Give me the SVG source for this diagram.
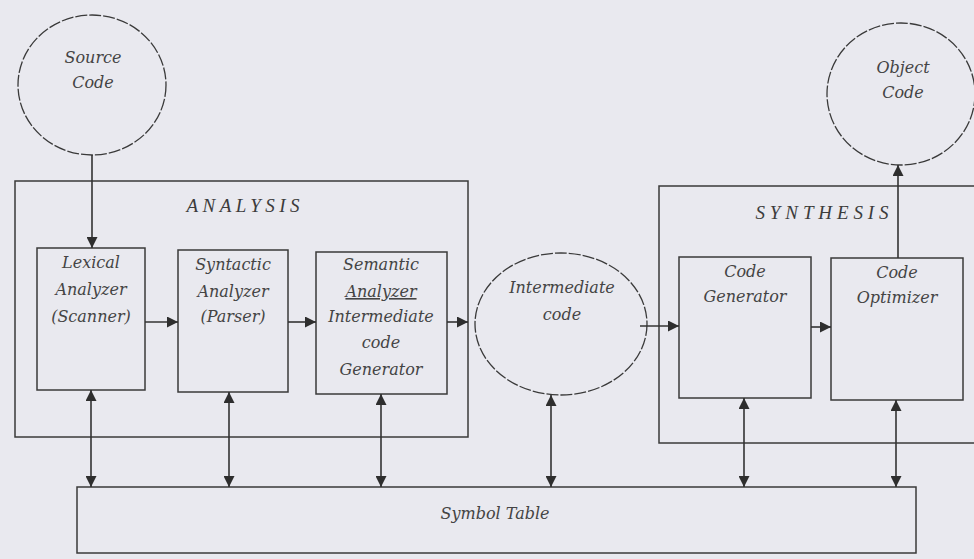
<svg xmlns="http://www.w3.org/2000/svg" width="974" height="559" viewBox="0 0 974 559">
<style>
.bg{fill:#e9e9ef}
.box{fill:none;stroke:#3a3a3a;stroke-width:1.5}
.circ{fill:none;stroke:#3a3a3a;stroke-width:1.3;stroke-dasharray:12 2}
.t{font-family:"DejaVu Serif","Liberation Serif",serif;font-style:italic;font-size:16px;fill:#444;text-anchor:middle}
.h{font-family:"Liberation Serif",serif;font-style:italic;font-size:19px;fill:#3c3c3c;text-anchor:middle}
.c line{stroke:#333;stroke-width:1.6}
</style>
<defs>
<marker id="ah" viewBox="0 0 10 10" refX="10" refY="5" markerWidth="12" markerHeight="11" markerUnits="userSpaceOnUse" orient="auto-start-reverse">
<path d="M0,0 L10,5 L0,10 z" fill="#2e2e2e"/>
</marker>
</defs>
<rect class="bg" x="0" y="0" width="974" height="559"/>

<g id="analysis">
<rect class="box" x="15" y="181" width="453" height="256"/>
<text class="h" x="243" y="212" textLength="113" lengthAdjust="spacing">ANALYSIS</text>
</g>
<g id="synthesis">
<rect class="box" x="659" y="186" width="330" height="257"/>
<text class="h" x="822" y="219" textLength="133" lengthAdjust="spacing">SYNTHESIS</text>
</g>

<g id="source">
<ellipse class="circ" cx="92" cy="85" rx="74" ry="70"/>
<text class="t" x="93" y="63">Source</text>
<text class="t" x="93" y="88">Code</text>
</g>

<g id="lexical">
<rect class="box" x="37" y="248" width="108" height="142"/>
<text class="t" x="91" y="268">Lexical</text>
<text class="t" x="91" y="295">Analyzer</text>
<text class="t" x="91" y="322">(Scanner)</text>
</g>
<g id="syntactic">
<rect class="box" x="178" y="250" width="110" height="142"/>
<text class="t" x="233" y="270">Syntactic</text>
<text class="t" x="233" y="297">Analyzer</text>
<text class="t" x="233" y="322">(Parser)</text>
</g>
<g id="semantic">
<rect class="box" x="316" y="252" width="131" height="142"/>
<text class="t" x="381" y="270">Semantic</text>
<text class="t" x="381" y="297" text-decoration="underline">Analyzer</text>
<text class="t" x="381" y="322">Intermediate</text>
<text class="t" x="381" y="348">code</text>
<text class="t" x="381" y="375">Generator</text>
</g>

<g id="intermediate">
<ellipse class="circ" cx="561" cy="324" rx="86" ry="71"/>
<text class="t" x="562" y="293">Intermediate</text>
<text class="t" x="562" y="320">code</text>
</g>

<g id="codegen">
<rect class="box" x="679" y="257" width="132" height="141"/>
<text class="t" x="745" y="277">Code</text>
<text class="t" x="745" y="302">Generator</text>
</g>
<g id="optimizer">
<rect class="box" x="831" y="258" width="132" height="142"/>
<text class="t" x="897" y="278">Code</text>
<text class="t" x="897" y="303">Optimizer</text>
</g>

<g id="object">
<ellipse class="circ" cx="901" cy="94" rx="74" ry="71"/>
<text class="t" x="903" y="73">Object</text>
<text class="t" x="903" y="98">Code</text>
</g>

<g id="symtab">
<rect class="box" x="77" y="487" width="839" height="66"/>
<text class="t" x="495" y="519">Symbol Table</text>
</g>

<g id="connectors" class="c">
<line x1="92" y1="155" x2="92" y2="248" marker-end="url(#ah)"/>
<line x1="145" y1="322" x2="178" y2="322" marker-end="url(#ah)"/>
<line x1="288" y1="322" x2="316" y2="322" marker-end="url(#ah)"/>
<line x1="447" y1="322" x2="468" y2="322" marker-end="url(#ah)"/>
<line x1="640" y1="326" x2="679" y2="326" marker-end="url(#ah)"/>
<line x1="811" y1="327" x2="831" y2="327" marker-end="url(#ah)"/>
<line x1="898" y1="258" x2="898" y2="165" marker-end="url(#ah)"/>
<line x1="91" y1="390" x2="91" y2="487" marker-start="url(#ah)" marker-end="url(#ah)"/>
<line x1="229" y1="392" x2="229" y2="487" marker-start="url(#ah)" marker-end="url(#ah)"/>
<line x1="381" y1="394" x2="381" y2="487" marker-start="url(#ah)" marker-end="url(#ah)"/>
<line x1="551" y1="395" x2="551" y2="487" marker-start="url(#ah)" marker-end="url(#ah)"/>
<line x1="744" y1="398" x2="744" y2="487" marker-start="url(#ah)" marker-end="url(#ah)"/>
<line x1="896" y1="400" x2="896" y2="487" marker-start="url(#ah)" marker-end="url(#ah)"/>
</g>
</svg>
